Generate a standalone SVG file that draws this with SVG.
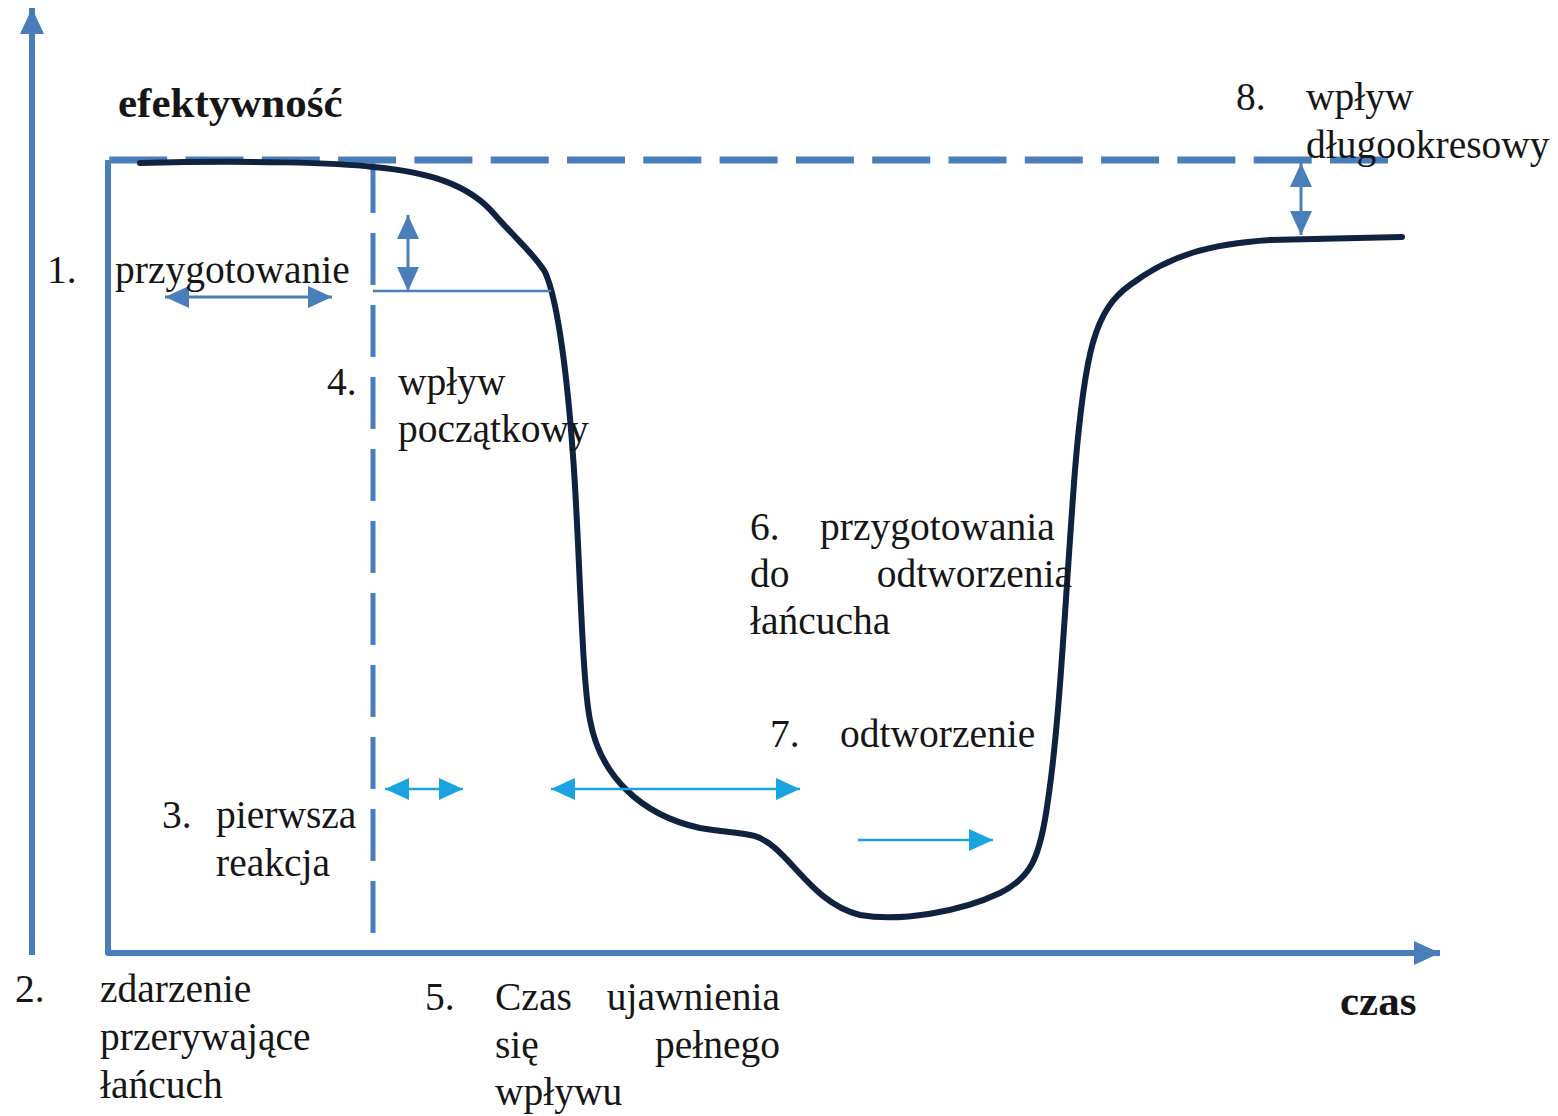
<svg xmlns="http://www.w3.org/2000/svg" width="1558" height="1116" viewBox="0 0 1558 1116">
<defs>
<style>
.ax{stroke:#4a7ebb;fill:none;stroke-linecap:butt}
.cy{stroke:#19a3e3;fill:none;stroke-width:2.5}
.bl{stroke:#4a7ebb;fill:none;stroke-width:3}
.t{font-family:"Liberation Serif","Times New Roman",serif;font-size:39.5px;fill:#161616}
.b{font-weight:bold;font-size:43px}
</style>
<marker id="hb" viewBox="0 0 24 22" refX="24" refY="11" markerWidth="24" markerHeight="22" markerUnits="userSpaceOnUse" orient="auto-start-reverse"><path d="M0,0 L24,11 L0,22 z" fill="#4a7ebb"/></marker>
<marker id="hc" viewBox="0 0 24 22" refX="24" refY="11" markerWidth="24" markerHeight="22" markerUnits="userSpaceOnUse" orient="auto-start-reverse"><path d="M0,0 L24,11 L0,22 z" fill="#19a3e3"/></marker>
<marker id="ha" viewBox="0 0 26 24" refX="26" refY="12" markerWidth="26" markerHeight="24" markerUnits="userSpaceOnUse" orient="auto"><path d="M0,0 L26,12 L0,24 z" fill="#4a7ebb"/></marker>
</defs>
<rect width="1558" height="1116" fill="#ffffff"/>

<g id="axes">
<line class="ax" x1="32" y1="955" x2="32" y2="8" stroke-width="6" marker-end="url(#ha)"/>
<polyline class="ax" points="108,160 108,953 1440,953" stroke-width="6" stroke-linejoin="round" marker-end="url(#ha)"/>
<line class="ax" x1="1388" y1="160" x2="108" y2="160" stroke-width="7" stroke-dasharray="58 18.3"/>
<line class="ax" x1="373" y1="933" x2="373" y2="162" stroke-width="5" stroke-dasharray="52 20"/>
</g>

<g id="curve">
<path d="M140,163 C250,160 340,163 373,167 C430,172 470,185 495,215 C515,238 535,255 545,272 C558,300 568,380 574,470 C580,560 582,680 590,720 C600,775 640,815 700,828 C740,835 755,830 775,848 C800,870 820,905 860,915 C900,922 960,912 1000,893 C1030,878 1040,860 1048,800 C1060,720 1065,600 1075,470 C1085,350 1095,310 1130,285 C1170,255 1210,244 1270,240 L1402,237" fill="none" stroke="#0f2340" stroke-width="6" stroke-linecap="round"/>
</g>

<g id="connectors">
<line x1="373" y1="291" x2="551" y2="291" stroke="#4a7ebb" stroke-width="2.5"/>
<line class="bl" x1="165" y1="297" x2="332" y2="297" marker-start="url(#hb)" marker-end="url(#hb)"/>
<line class="bl" x1="408" y1="215" x2="408" y2="291" marker-start="url(#hb)" marker-end="url(#hb)"/>
<line class="bl" x1="1301" y1="163" x2="1301" y2="235" marker-start="url(#hb)" marker-end="url(#hb)"/>
<line class="cy" x1="385" y1="789" x2="463" y2="789" marker-start="url(#hc)" marker-end="url(#hc)"/>
<line class="cy" x1="551" y1="789" x2="800" y2="789" marker-start="url(#hc)" marker-end="url(#hc)"/>
<line class="cy" x1="858" y1="840" x2="993" y2="840" marker-end="url(#hc)"/>
</g>

<g id="labels">
<text class="t b" x="118" y="117">efektywność</text>
<text class="t b" x="1340" y="1015">czas</text>
<text class="t" x="1236" y="110">8.</text>
<text class="t" x="1306" y="110">wpływ</text>
<text class="t" x="1306" y="158">długookresowy</text>
<text class="t" x="47" y="283">1.</text>
<text class="t" x="115" y="283">przygotowanie</text>
<text class="t" x="327" y="395">4.</text>
<text class="t" x="398" y="395">wpływ</text>
<text class="t" x="398" y="442">początkowy</text>
<text class="t" x="750" y="540">6.</text>
<text class="t" x="820" y="540">przygotowania</text>
<text class="t" x="750" y="587">do</text>
<text class="t" x="1072" y="587" text-anchor="end">odtworzenia</text>
<text class="t" x="750" y="634">łańcucha</text>
<text class="t" x="770" y="747">7.</text>
<text class="t" x="840" y="747">odtworzenie</text>
<text class="t" x="162" y="828">3.</text>
<text class="t" x="216" y="828">pierwsza</text>
<text class="t" x="216" y="876">reakcja</text>
<text class="t" x="15" y="1002">2.</text>
<text class="t" x="100" y="1002">zdarzenie</text>
<text class="t" x="100" y="1050">przerywające</text>
<text class="t" x="100" y="1098">łańcuch</text>
<text class="t" x="425" y="1010">5.</text>
<text class="t" x="495" y="1010">Czas</text>
<text class="t" x="780" y="1010" text-anchor="end">ujawnienia</text>
<text class="t" x="495" y="1058">się</text>
<text class="t" x="780" y="1058" text-anchor="end">pełnego</text>
<text class="t" x="495" y="1105">wpływu</text>
</g>
</svg>
